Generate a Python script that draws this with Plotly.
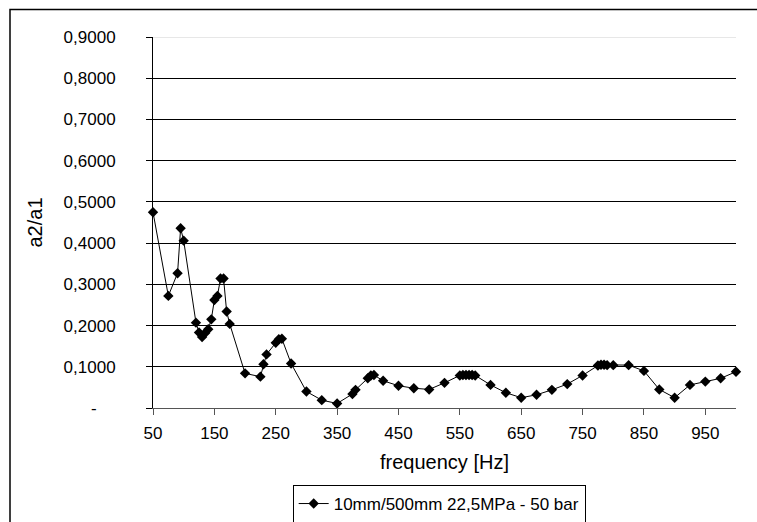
import plotly.graph_objects as go

freq = [50, 75, 90, 95, 100, 120, 125, 130, 135, 140, 145, 150, 155, 160, 165, 170, 175,
        200, 225, 230, 235, 250, 255, 260, 275, 300, 325, 350, 375, 380, 400, 405, 410,
        425, 450, 475, 500, 525, 550, 555, 560, 565, 570, 575, 600, 625, 650, 675, 700,
        725, 750, 775, 780, 785, 790, 800, 825, 850, 875, 900, 925, 950, 975, 1000]
ratio = [0.475, 0.272, 0.327, 0.436, 0.406, 0.207, 0.183, 0.172, 0.182, 0.191, 0.215, 0.262,
         0.272, 0.314, 0.314, 0.234, 0.204,
         0.084, 0.076, 0.106, 0.130, 0.158, 0.167, 0.168, 0.108, 0.040, 0.019, 0.011, 0.034,
         0.044, 0.072, 0.079, 0.080,
         0.066, 0.054, 0.048, 0.045, 0.061, 0.079, 0.080, 0.080, 0.080, 0.080, 0.079, 0.056,
         0.037, 0.025, 0.032, 0.044,
         0.058, 0.079, 0.103, 0.105, 0.105, 0.104, 0.104, 0.104, 0.090, 0.045, 0.025, 0.056,
         0.064, 0.072, 0.088]

series_name = "10mm/500mm 22,5MPa - 50 bar"
x_ticks = [50, 150, 250, 350, 450, 550, 650, 750, 850, 950]
y_ticks = [0, 0.1, 0.2, 0.3, 0.4, 0.5, 0.6, 0.7, 0.8, 0.9]
y_tick_text = ["-\u00a0\u00a0\u00a0\u00a0", "0,1000", "0,2000", "0,3000", "0,4000", "0,5000",
               "0,6000", "0,7000", "0,8000", "0,9000"]

FONT = "Liberation Sans, Arial, sans-serif"

fig = go.Figure()
fig.add_trace(go.Scatter(
    x=freq, y=ratio, mode="lines+markers", name=series_name,
    line=dict(color="black", width=1),
    marker=dict(symbol="diamond", size=8, color="black"),
    cliponaxis=False,
))

fig.update_layout(
    width=757, height=522,
    margin=dict(l=153, r=21, t=37, b=114, autoexpand=False),
    paper_bgcolor="white", plot_bgcolor="white",
    font=dict(family=FONT, size=17, color="black"),
    showlegend=True,
    legend=dict(x=0.2396, y=-0.2075, xanchor="left", yanchor="top",
                bordercolor="black", borderwidth=1, bgcolor="white",
                font=dict(size=17)),
    xaxis=dict(range=[50, 1000], tickvals=x_ticks, ticks="outside", ticklen=6,
               tickcolor="#555", showgrid=False, showline=True, linecolor="#555",
               linewidth=1, zeroline=False, ticklabelstandoff=4,
               title=dict(text="frequency [Hz]", standoff=12)),
    yaxis=dict(range=[0, 0.9], tickvals=y_ticks, ticktext=y_tick_text,
               ticks="outside", ticklen=6, tickcolor="black", showgrid=True,
               gridcolor="black", gridwidth=1, showline=True, linecolor="black",
               linewidth=1, zeroline=False, ticklabelstandoff=27,
               title=dict(text="a2/a1", standoff=15)),
    shapes=[
        dict(type="rect", xref="paper", yref="paper",
             x0=(10 - 153) / 583, x1=(775 - 153) / 583,
             y0=(408 - 545) / 371, y1=(408 - 9.5) / 371,
             line=dict(color="black", width=1.5), fillcolor="rgba(0,0,0,0)",
             layer="below"),
        dict(type="line", xref="paper", yref="y", x0=0, x1=1, y0=0.9, y1=0.9,
             line=dict(color="#d0d0d0", width=1), layer="above"),
    ],
)

fig.write_html("out.html")
